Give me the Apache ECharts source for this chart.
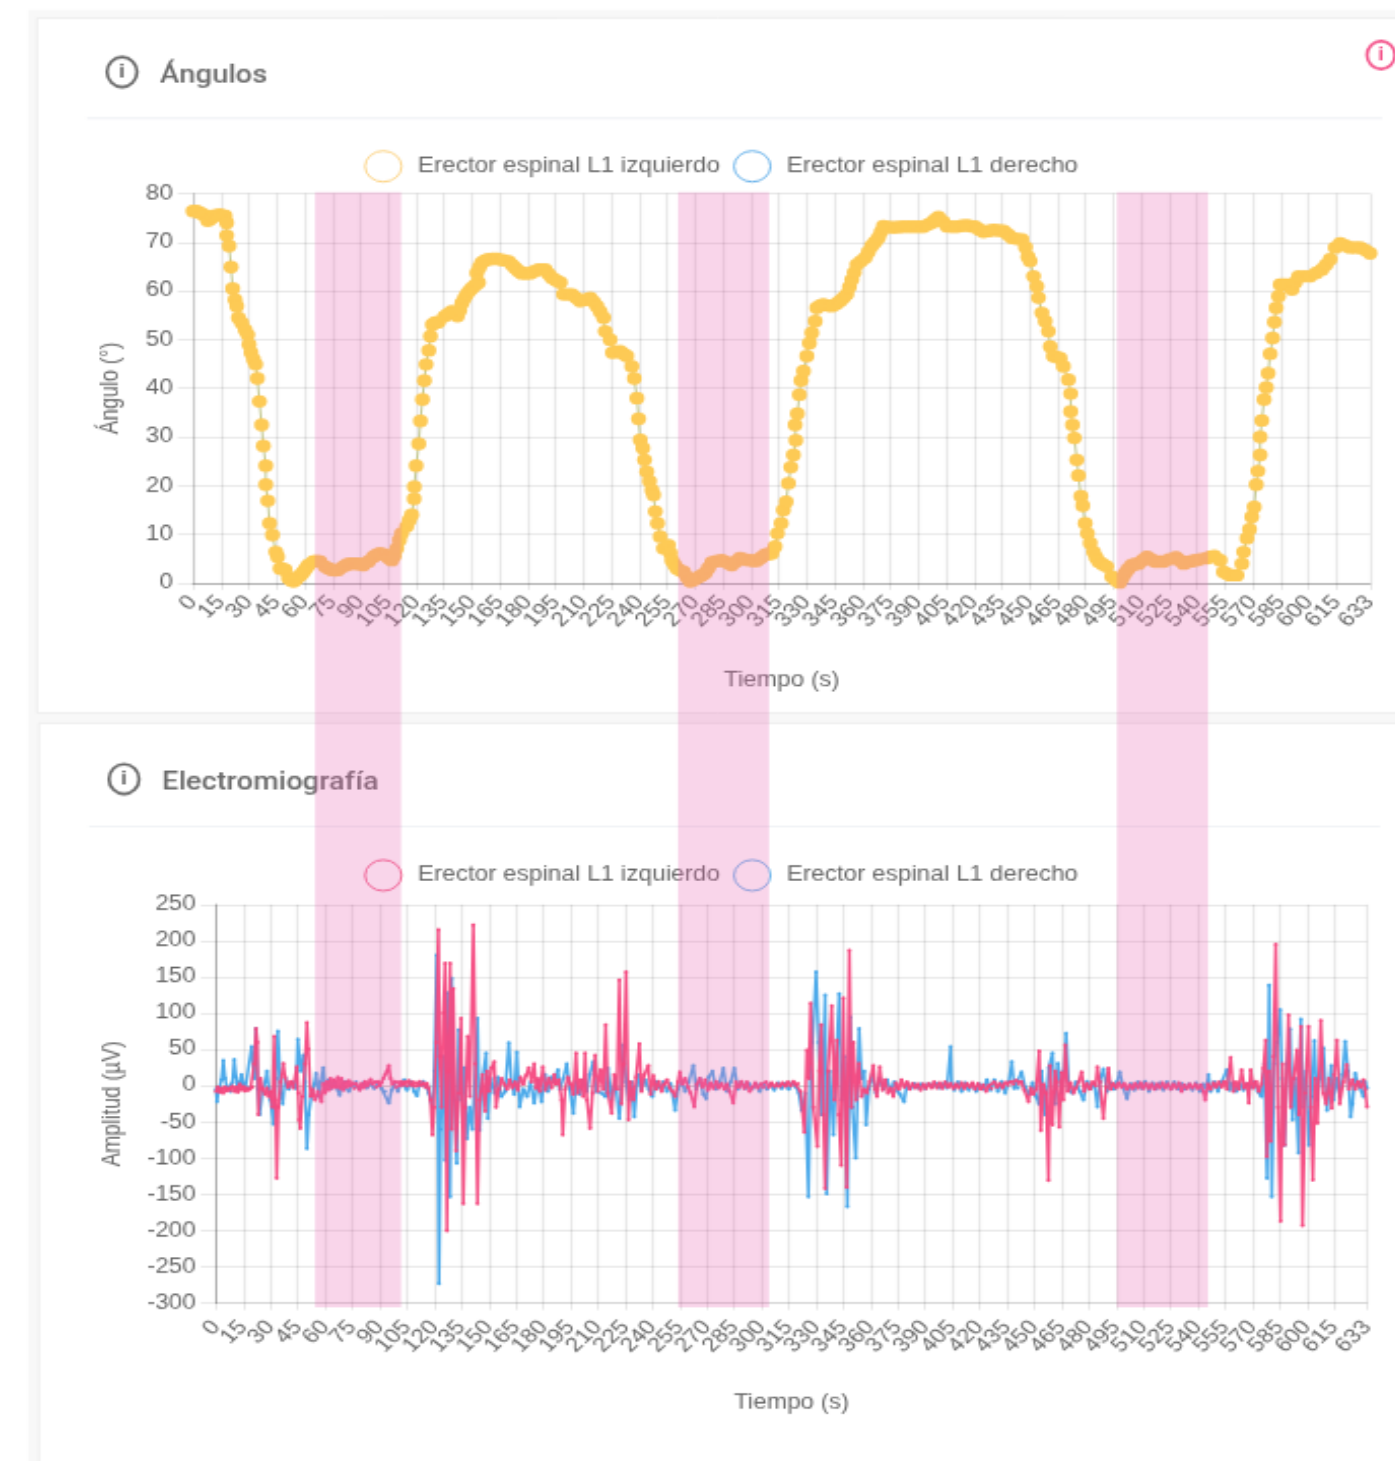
<!DOCTYPE html>
<html><head><meta charset="utf-8">
<style>html,body{margin:0;padding:0;background:#fff;overflow:hidden;width:1395px;height:1461px}
#c{position:absolute;left:0;top:0;transform-origin:0 0}</style>
<script src="https://cdn.jsdelivr.net/npm/echarts@6/dist/echarts.min.js"></script>
</head><body><div id="c"></div>
<script>
const tickSeconds=[0,15,30,45,60,75,90,105,120,135,150,165,180,195,210,225,240,255,270,285,300,315,330,345,360,375,390,405,420,435,450,465,480,495,510,525,540,555,570,585,600,615,633];
const nameLeft='Erector espinal L1 izquierdo';
const nameRight='Erector espinal L1 derecho';
const bandRanges=[[65.6,111.9],[260.8,309.8],[496.9,545.9]];
const angleLeft=[[0,76.4],[2,76.4],[3.8,76],[5.6,75.7],[7.9,74.4],[9.5,74.8],[10.9,75.4],[12.7,75.5],[14.5,75.7],[17.2,75.4],[18.1,74],[18.1,71.4],[19.4,69.2],[20.4,64.9],[21.3,60.5],[22.6,58.2],[23.5,56.9],[24.4,54.5],[26.2,53.4],[28,52],[29.4,51],[30.1,49],[31.2,47.3],[32.5,45.9],[33.7,44.9],[34.6,42],[35.7,37.3],[36.9,32.5],[37.8,28.2],[39.1,24.1],[39.1,20.2],[40.2,16.9],[41.2,12.3],[42.7,9.9],[44.5,6.4],[45.5,5.4],[46.8,3],[48.2,2.9],[49.5,2.7],[51.3,1],[52.6,0.6],[54,0.3],[55.3,0.7],[56.7,1.3],[58,1.7],[59.4,2.3],[60.7,3],[62,3.7],[64.7,4.4],[66.5,4.5],[68.3,4.4],[71,3.4],[72.8,3],[74.6,2.7],[76.4,2.6],[78.2,2.7],[80.9,3.4],[82.7,3.8],[84.5,4],[86.2,4],[88,4],[89.8,3.9],[91.6,3.7],[94.3,4.4],[97,5.4],[98.8,5.8],[100.6,6.1],[103.3,5.8],[105,5.2],[106.9,4.7],[108.3,5.6],[109.6,7.1],[111,8.8],[112.2,10.2],[114.9,11.6],[116.3,12.9],[117.6,14],[118.9,17.3],[119,19.8],[120,24.1],[121.4,28.6],[122.3,33.3],[123.4,37.7],[124.4,41.6],[125.3,44.9],[126.8,47.8],[127.7,50.7],[128.7,53.1],[130.3,53.5],[132,53.6],[135.4,54.8],[137.3,55.3],[139.2,55.8],[140.7,55.3],[142.2,54.8],[143.4,56],[144.6,57.5],[146,58.5],[147.2,59.3],[148.6,60],[150,60.6],[151.8,61.2],[153.5,61.7],[152.6,63.7],[154,64.8],[155.3,65.8],[157,66.2],[158.9,66.5],[161.2,66.6],[163.4,66.6],[166.5,66.3],[169.7,66.1],[171.5,65.4],[173.2,64.7],[175,64.1],[176.8,63.6],[179,63.6],[181.3,63.6],[183.5,64],[185.8,64.4],[187.6,64.4],[189.4,64.4],[191.2,63.5],[193,62.7],[195.2,62.2],[197.5,61.7],[199.2,59.3],[201.5,59.3],[203.7,59.3],[206,58.6],[208.2,57.9],[211,58.2],[213.6,58.6],[215.4,57.8],[217.2,56.9],[219,55.7],[220.8,54.5],[221.7,51.7],[224.3,50],[225.6,47.3],[227.6,47.5],[229.7,47.6],[231.5,47.1],[233.3,46.6],[236,44.5],[237.3,42],[238.7,38],[239.6,33.7],[240.5,29.4],[241.9,27.7],[242.8,25.3],[244,22.9],[245.5,20.9],[246.8,19.1],[247.7,18.1],[248.6,14.7],[249.8,12.3],[251.2,9.5],[253,7.1],[255.7,7.8],[256.7,6.2],[257.5,4.7],[258.9,3.8],[260.2,3],[262,2.6],[263.8,2.3],[265.6,1.2],[267.4,0.3],[269.6,0.7],[271.9,1.2],[273.6,1.6],[275.4,2],[277.2,3.1],[279,4.2],[281.7,4.5],[284.4,4.7],[287,4.2],[289.7,3.7],[292,4.4],[294.2,5.1],[296.5,4.9],[298.7,4.7],[301,4.6],[303.2,4.6],[305.5,5.2],[307.7,5.8],[309.5,6],[311.3,6.1],[313,7.5],[314.3,10.2],[316.3,12.3],[317.5,15],[319,16.7],[320.2,20.5],[321.5,23.8],[322.9,26.3],[324.2,29.3],[323.8,32.5],[325,34.8],[326.1,38.7],[327,41.6],[328.3,43.5],[330.1,46.6],[331.5,49.3],[332.8,51.4],[334.6,53.8],[335.5,56.5],[337.2,57],[339,57.2],[341.2,57],[343.5,56.9],[345.8,57.3],[348,57.9],[349.8,58.6],[351.6,59.3],[353,60.8],[354.3,62.3],[355.6,63.8],[357,65.4],[359.2,66.1],[361.5,66.8],[363.2,68],[365,69.2],[366.8,70],[368.6,70.9],[370,72.1],[371.3,73.3],[374,73.1],[376.7,73],[379.4,73.1],[382,73.2],[384.8,73.2],[387.5,73.2],[390.2,73.2],[392.8,73.2],[395,73.6],[397.3,74],[399.1,74.6],[400.9,75.2],[403.2,74.3],[405.4,73.3],[408,73.2],[410.8,73.2],[413.5,73.4],[416.1,73.5],[418.4,73.3],[420.6,73.2],[422.9,72.6],[425.1,72.1],[427.8,72.3],[430.5,72.5],[433.2,72.4],[435.9,72.3],[438.2,71.6],[440.4,70.9],[443,70.7],[445.7,70.6],[447.7,69],[449,67],[450.2,66.1],[452,63],[453.8,60.9],[454.7,58.6],[456.5,55.5],[458.3,53.8],[460,51.7],[461,48.6],[462.7,46.6],[464.5,46.4],[466.3,46.2],[468.1,44.5],[470.8,41.8],[472,38.9],[472,35.2],[473,32.5],[474,29.8],[475.3,25.3],[476.2,22.1],[477.5,17.8],[478.5,15.9],[479.8,12.3],[481,10.2],[482.5,8.2],[484.3,6.4],[485.6,5.3],[487,4.4],[489.2,3.9],[491.4,3.4],[494.1,1.3],[496.2,0.6],[498.3,0.1],[499.8,1],[501.3,2],[503,2.9],[504.9,3.7],[506.7,3.9],[508.5,4],[510.7,4.7],[513,5.4],[515.2,4.9],[517.4,4.4],[519.6,4.4],[521.9,4.4],[525.2,4.9],[528.6,5.3],[530.6,4.7],[532.7,4],[535,4.3],[537.2,4.5],[539.4,4.7],[541.6,4.9],[545.2,5.1],[547.2,5.4],[549.2,5.6],[552.4,4.7],[554.2,2.3],[556,1.9],[557.8,1.6],[559.6,1.6],[561.4,1.6],[564.1,4],[565,6.4],[566.8,9.2],[568.2,11],[569.4,13.6],[570.7,15.6],[571.8,20.2],[572.7,23],[573.9,26.3],[573.9,30],[574.8,33.4],[576,37.7],[577.2,40.2],[578.2,43.1],[579.3,47.1],[580.6,50.3],[581.6,53.6],[582.5,56.5],[583.8,58.9],[584.7,61.3],[586.5,61.3],[588.3,61.3],[591,60.3],[592.8,61.7],[594.6,63],[597.7,63],[600.8,63],[604,63.7],[607.1,64.4],[609.4,65.4],[611.6,66.5],[614.3,68.9],[617,69.8],[619.6,69.3],[622.3,68.9],[625,68.9],[627.7,68.9],[630.4,68.4],[633,67.7]];
const emgLeft=[[0,-8],[1,-2],[2,-9],[3,-3],[4,-10],[5,-2],[6,-7],[7,-3],[8,-6],[9,-1],[10,-8],[11,-2],[12,-9],[13,2],[14,-6],[15,-1],[16,-7],[17,-3],[18,-6],[19,-4],[20,-2],[21,30],[22,79],[22.7,60],[23.3,-40],[24.5,10],[25.5,-4],[27,-12],[28,-3],[29,-15],[30,-8],[31,-30],[32,68],[32.7,-20],[33.4,-128],[34.3,-30],[35.5,5],[37,31],[38,12],[39.5,-2],[41,6],[42.5,-3],[44.4,26],[45.2,-10],[45.7,-47],[46.3,-59],[47.5,-15],[49,30],[50,87],[50.8,50],[52,-15],[53,-5],[54.5,-20],[56,-8],[58,-22],[59,3],[60,-10],[61,6],[62,-6],[63,10],[64,-3],[65,8],[66,-2],[67,12],[68,-4],[69,10],[70,-6],[71,5],[72,-2],[73,7],[74,0],[75,4],[76,-4],[77,3],[78,-1],[79,-6],[80,3],[81,-3],[82,6],[83,-1],[84,4],[85,9],[86,2],[87,5],[88,-2],[89,6],[90,0],[91,4],[92,10],[93,15],[94,20],[95,28],[96,10],[97,2],[98,6],[99,-2],[100,5],[101,0],[102,6],[103,1],[104,5],[105,0],[106,7],[107,1],[108,5],[109,-1],[110,4],[111,0],[112,6],[113,1],[114,4],[115,-2],[116,3],[117,-4],[118,-20],[119,-68],[120,-30],[121,60],[122.3,215],[123,40],[124,-30],[125,100],[126,169],[127,-200],[127.6,20],[128.7,169],[129.6,-60],[130.5,134],[132,-90],[133.5,-10],[134.8,93],[136,-163],[137,-30],[138.4,68],[139.6,-15],[141.5,222],[142.6,30],[143.8,-163],[145,-20],[146.5,15],[148,-35],[149,20],[150,-8],[151.5,25],[153,33],[154,-30],[155.5,-5],[157,10],[158.5,2],[160,-5],[161.5,8],[163,-3],[164.5,5],[166,-6],[167.5,12],[169,2],[170.5,14],[172,25],[173.5,5],[175,30],[176,-4],[177,10],[178,-8],[179.7,26],[181,-6],[183,10],[184.5,-3],[186,15],[187,2],[188.5,8],[190,-20],[190.7,-68],[192,-5],[193.5,12],[195,2],[196.5,-12],[198,45],[199,-10],[200.5,8],[202,-15],[203,45],[204,-20],[205.7,-59],[207,-10],[208.5,42],[210,-8],[211.5,22],[213,-5],[214.3,84],[215.5,-10],[217.6,-38],[219,15],[220.5,-5],[221.8,146],[223,-25],[224.3,30],[225.5,157],[226.8,-47],[228,5],[229.5,-20],[231,12],[232.8,58],[234,-8],[235.5,15],[237.8,28],[239,-12],[240.5,14],[242,-5],[243.5,6],[245,-8],[246.5,2],[248,8],[249.5,-3],[251,-8],[252.5,-15],[254,5],[255,19],[256.5,2],[258,10],[259.5,-2],[261,-10],[263,-29],[264.5,2],[266,10],[267.5,-2],[269,8],[270.5,-6],[272,4],[273.5,-4],[275,6],[276.5,-3],[278,3],[279.5,-5],[281,2],[282.5,-8],[284.5,-24],[286,5],[287.5,-2],[289,6],[290.5,-4],[292,5],[293.5,-8],[295,-2],[296.5,4],[298,-3],[299.5,2],[301,-2],[302.5,5],[304,-2],[305.5,4],[307,-1],[308.5,3],[310,-1],[311.5,4],[313,-1],[314.5,5],[316,0],[317.5,6],[319,1],[320,3],[321.5,-8],[323.6,-64],[324.9,49],[326,10],[327,114],[328.5,-30],[330.7,-84],[331.8,20],[332.8,84],[334,-40],[335,-142],[336.5,20],[338.6,110],[340,-20],[341.5,63],[342.5,-40],[343.8,-110],[345,121],[346.9,-140],[348.3,187],[349.5,-30],[350.5,60],[352,-20],[353.5,31],[355,-15],[356.5,-5],[358,-10],[359.5,6],[361.5,28],[362.5,-5],[363.5,-15],[365,26],[366.5,-6],[368,8],[369.5,-10],[371,-3],[372.5,-15],[374,4],[375.5,-5],[377,8],[378.5,-2],[380,5],[381.5,-5],[383,3],[384.5,-3],[386,2],[387.5,-6],[389,2],[390.5,-4],[392,3],[393.5,-3],[395,5],[396.5,-3],[398,4],[399.5,-4],[401,5],[402.5,-2],[404,3],[405.5,-4],[407,2],[408.5,-3],[410,4],[411.5,-4],[413,3],[414.5,-2],[416,4],[417.5,-5],[419,3],[420.5,-5],[422,1],[423.5,-8],[425,0],[426.5,-4],[428,5],[429.5,-2],[431,3],[432.5,-3],[434,4],[435.5,1],[437,5],[438.5,2],[440,7],[441.5,3],[443,5],[444.5,-6],[446.8,-22],[448,-3],[449.5,-12],[451,-5],[452.7,48],[453.6,-62],[455,2],[456.5,-10],[457.8,-131],[458.7,28],[460,-54],[461.5,20],[462.5,5],[463.7,-57],[465,18],[466,-20],[467,56],[468.5,-8],[470,4],[471.5,-10],[473,-3],[474.5,6],[476,19],[477.5,-8],[479,3],[480.5,-5],[482,5],[483.7,0],[484.7,26],[486,5],[488,-45],[489.5,-2],[490.8,24],[492,-5],[493.5,3],[495,-3],[496.5,4],[498,-2],[499.5,3],[501,-5],[502.5,1],[504,-4],[505.5,3],[507,-3],[508.5,4],[510,-4],[511.5,3],[513,-4],[514.5,2],[516,-5],[517.5,2],[519,-3],[520.5,4],[522,-3],[523.5,2],[525,-5],[526.5,2],[528,-3],[529.5,4],[531,-8],[532.5,1],[534,-4],[535.5,2],[537,-3],[538.5,2],[540,-4],[541.5,1],[543,-8],[544,-20],[545.5,2],[547,-5],[548.5,4],[550,-2],[551.5,5],[553,-2],[554.5,6],[556,-5],[558,39],[559.5,-8],[561,5],[562.5,-5],[564,22],[565.5,-3],[567,3],[568,-24],[569,22],[570.5,-3],[572,6],[573.5,-8],[575,3],[576,24],[577.3,63],[577.9,-98],[579,20],[580,-77],[581.5,40],[582.8,195],[584,-30],[585.4,-187],[586.5,30],[587.6,-82],[589.8,98],[591,-30],[592.5,10],[594.4,49],[595.5,-40],[596.6,82],[597.5,-193],[599,-10],[600.8,82],[602,-30],[603.2,-130],[604.5,10],[605.7,-52],[607.6,90],[609,-10],[610.5,-25],[612,10],[613.6,-31],[615,15],[616.4,63],[618,-25],[620,5],[621.9,29],[623,-5],[625,8],[626.5,-5],[628,6],[629.5,-2],[631,8],[632,-5],[633,-29]];
const emgRight=[[0,-5],[0.5,-22],[1.5,-6],[3,8],[4,35],[5,10],[6,-4],[8,-8],[9,4],[10,36],[11,12],[12,-6],[13,5],[14,15],[15,3],[16,-5],[18,-3],[19.6,54],[21,10],[22,79],[23,-5],[24,-40],[25.5,-8],[27,5],[28,20],[29,-3],[30,-20],[31.5,-53],[33,10],[34,75],[35.5,-10],[36.7,-25],[38,10],[40,-5],[42,5],[44,-4],[45,64],[46.5,20],[48,42],[49,5],[50,-87],[51,-40],[52.5,-12],[54,2],[55,17],[56.5,-15],[57.5,5],[59,25],[60,-5],[62,8],[63.5,-4],[65,5],[67,-6],[68,-13],[69.5,2],[71,6],[73,-8],[75,2],[77,5],[79,-5],[81,4],[83,-3],[85,3],[87,-4],[89,2],[91,-4],[93,-8],[95,-24],[96.5,-6],[98,2],[100,-8],[102,5],[103.5,8],[105,-6],[107,6],[109,-8],[110.5,-14],[112,4],[114,6],[116,-3],[117,-10],[119,-30],[120,20],[121.4,180],[122,50],[122.6,-273],[123.5,-60],[125,40],[126,-103],[127,128],[128,30],[128.7,-153],[129.6,148],[131,-20],[132.4,-107],[133.5,77],[135,-20],[136.5,25],[138,-73],[139.5,-30],[141,-60],[143.8,93],[145,-61],[146.5,10],[148.5,45],[149.5,-45],[151,10],[153,-10],[155,12],[157,-15],[159,-8],[161,59],[162.5,5],[164,-12],[165.4,46],[167,-29],[169,-5],[171,-15],[173,5],[175,-24],[177,8],[179,-22],[181,15],[182.5,-8],[184,12],[186,5],[188,22],[189,-5],[191,10],[192.9,30],[194.5,-4],[196.5,-38],[198,5],[200,-12],[202,8],[204,-8],[205.5,15],[207.5,33],[209,-8],[212,-10],[214,-15],[215.5,24],[217.5,-20],[219.5,10],[221.8,-45],[223,-5],[224,56],[225.5,5],[227,-20],[228.5,5],[230,-43],[232,15],[234,-5],[236,8],[238,-5],[240,-15],[242,6],[244,-3],[246,5],[248,-8],[250,3],[252.5,-34],[254,-5],[256,6],[258,-8],[260,5],[262.5,28],[264,-5],[266,10],[268,-12],[269.5,-18],[271,12],[273,20],[275,-5],[277,5],[279,24],[281,-8],[283,5],[285,24],[287,-5],[289,5],[291,-4],[293,3],[295,-4],[297,3],[299,-8],[301,2],[303,-5],[305,3],[307,-6],[309,4],[311,-4],[313,3],[315,-5],[317,4],[319,-2],[320.5,-10],[322,-34],[324,-10],[325.8,-153],[327,20],[328,60],[330,157],[331.5,60],[333,-40],[335,125],[335.9,-149],[337.5,20],[339.5,-68],[341,20],[342.7,127],[344,-20],[345.5,40],[347.2,-167],[348.7,95],[350,-30],[351.8,-100],[353.7,79],[355,10],[356.5,20],[357.5,-54],[359,-5],[361,15],[363,-10],[365,10],[367,-5],[369,8],[371,-6],[373,5],[375,-8],[376.5,-12],[378.4,-22],[380,3],[382,-4],[384,3],[386,-3],[388,2],[390,-4],[392,3],[394,-2],[396,3],[398,-3],[400,2],[402,-3],[404,54],[404.6,2],[406,-6],[408,5],[410,-8],[412,4],[414,-6],[416,3],[418,-8],[420,2],[422,-5],[424,8],[426,-6],[428,8],[430,-8],[432,6],[434,-10],[436,5],[437.6,33],[439,-4],[441,-3],[443,19],[445,-2],[447,-12],[449,4],[451,-15],[452.5,-25],[454,20],[456,-40],[458,25],[460,45],[461.5,-25],[463,31],[465,-10],[466.5,20],[467.5,72],[469,-5],[471,-10],[473,5],[475,-8],[477,-20],[479,6],[481,-4],[483,3],[484.7,-29],[486,6],[488,23],[490,-8],[492,4],[494,-5],[495.5,5],[497,19],[499,-3],[501,-18],[503,3],[505,-6],[507,5],[509,-4],[511,6],[513,-8],[515,4],[517,-5],[519,4],[521,-6],[523,5],[525,-5],[527,5],[529,-5],[531,3],[533,-5],[535,2],[537,-6],[539,4],[541,-8],[543,2],[544.5,-4],[545.8,15],[547,-8],[549,5],[551,-8],[553,5],[555.9,22],[557.5,-6],[559,4],[561,-8],[563,3],[565,-6],[567,3],[569,-3],[571,5],[573,-8],[575,-15],[576.5,30],[578,-128],[579.2,139],[580.6,-153],[582,30],[583.5,60],[585.2,105],[586.2,10],[587.6,-82],[589,30],[590.7,78],[592,-47],[593.5,10],[595.3,-93],[596.6,92],[598,-30],[599.5,20],[601,-82],[602.5,-15],[604,62],[605.5,-20],[607,10],[609,52],[611,-34],[613.3,28],[614.5,-20],[616,10],[618,-15],[619.5,15],[621,61],[622.5,20],[624,-43],[625,-25],[626.5,17],[628,2],[630,5],[631,-15],[632,5],[633,-3]];

const SX=2.03, SY=1.72;
const W=Math.ceil(1395/SX), H=Math.ceil(1461/SY);
const el=document.getElementById('c');
el.style.width=W+'px'; el.style.height=H+'px';
el.style.transform='scale('+SX+','+SY+')';
const chart=echarts.init(el,null,{renderer:'canvas',devicePixelRatio:1});
const X=v=>v/SX, Y=v=>v/SY;
const FONT='"Liberation Sans"';
const GREY='#666';
const GRID='rgba(0,0,0,0.085)';
const ZERO='rgba(0,0,0,0.28)';
const labelsEven=tickSeconds.filter((t,i)=>i%2===0);
const labelsOdd=tickSeconds.filter((t,i)=>i%2===1);

function rect(x0,y0,x1,y1,fill,stroke,z){return {type:'rect',z:z,silent:true,shape:{x:X(x0),y:Y(y0),width:X(x1-x0),height:Y(y1-y0)},style:{fill:fill,stroke:stroke||null,lineWidth:1}};}
function icon(cx,cy,r,col,z){return [
 {type:'ellipse',z:z,silent:true,shape:{cx:X(cx),cy:Y(cy),rx:X(r),ry:Y(r)},style:{fill:'transparent',stroke:col,lineWidth:1.6}},
 {type:'text',z:z,silent:true,x:X(cx),y:Y(cy),style:{text:'i',fill:col,font:'bold 11px "Liberation Sans"',align:'center',verticalAlign:'middle'}}];}
function title(x,y,t){return {type:'text',z:-5,silent:true,x:X(x),y:Y(y),style:{text:t,fill:'#6a6a6a',font:'500 14.4px Roboto',align:'left',verticalAlign:'middle'}};}

const graphics=[
 rect(28,10,1400,1470,'#f8f8f8',null,-10),
 rect(37,18,1400,713,'#fff','#eeeeee',-9),
 rect(39,723,1400,1470,'#fff','#eeeeee',-9),
 rect(87,117.5,1382,119,'#eef0f5',null,-8),
 rect(89,825.5,1380,827,'#eef0f5',null,-8),
 title(160,76,'Ángulos'),
 title(162,783,'Electromiografía'),
 ...icon(122,72,15,'#666',-5),
 ...icon(124,779,15,'#666',-5),
 ...icon(1381,55,14,'#f4558c',-5)
];

function legend(left,top,c1,c2){return {left:X(left),top:Y(top)-9,orient:'horizontal',padding:0,itemWidth:18,itemHeight:18,itemGap:6.5,icon:'circle',
 textStyle:{fontFamily:FONT,fontSize:12,color:GREY,padding:[0,0,0,3]},selectedMode:false,
 data:[{name:nameLeft,itemStyle:{color:'#fff',borderColor:c1,borderWidth:1,opacity:1}},{name:nameRight,itemStyle:{color:'#fff',borderColor:c2,borderWidth:1,opacity:1}}]};}
function xLabels(values,margin){return {customValues:values,rotate:48,margin:margin,fontFamily:FONT,fontSize:12,color:GREY,hideOverlap:false,showMinLabel:true,showMaxLabel:true};}
function xAxis(i,gap,lineColor,margin){return {gridIndex:i,type:'value',min:0,max:633,name:'Tiempo (s)',nameLocation:'middle',nameGap:gap,
 nameTextStyle:{fontFamily:FONT,fontSize:12,color:GREY},
 axisLine:{onZero:false,lineStyle:{color:lineColor,width:1}},
 axisTick:{customValues:tickSeconds,length:4,lineStyle:{color:GRID}},
 axisLabel:xLabels(labelsEven,margin),
 splitLine:{show:true,lineStyle:{color:GRID,width:1.2}}};}
function xAxisOdd(i,margin){return {gridIndex:i,type:'value',min:0,max:633,position:'bottom',
 axisLine:{show:false,onZero:false},axisTick:{show:false},splitLine:{show:false},axisLabel:xLabels(labelsOdd,margin)};}
function yAxis(i,name,gap,min,max,interval,colors){return {gridIndex:i,type:'value',min:min,max:max,interval:interval,name:name,nameLocation:'middle',nameGap:gap,
 nameTextStyle:{fontFamily:FONT,fontSize:12,color:GREY},
 axisLine:{show:true,lineStyle:{color:i==1?'rgba(0,0,0,0.25)':'rgba(0,0,0,0.13)'}},
 axisTick:{show:true,length:7.5,inside:false,lineStyle:{color:GRID}},
 axisLabel:{margin:10,fontFamily:FONT,fontSize:12,color:GREY},
 splitLine:{show:true,lineStyle:{color:colors,width:1.2}}};}

const option={
 animation:false,
 backgroundColor:'#fff',
 graphic:{elements:graphics},
 legend:[legend(364,165.5,'#fdd68a','#6fb6ec'),legend(364,874.5,'#f4688f','#6fb6ec')],
 grid:[
  {left:X(193),top:Y(193.5),width:X(1177),height:Y(389.5)},
  {left:X(216),top:Y(904.5),width:X(1151),height:Y(398.5)},
  {left:X(193),top:Y(192),width:X(1177),height:Y(1115)}
 ],
 xAxis:[xAxis(0,51,ZERO,9),xAxis(1,52,GRID,12),{gridIndex:2,type:'value',min:0,max:633,show:false},xAxisOdd(0,9),xAxisOdd(1,12)],
 yAxis:[
  yAxis(0,'Ángulo (°)',34,0,80,10,[GRID]),
  yAxis(1,'Amplitud (µV)',45,-300,250,50,[GRID,GRID,GRID,GRID,GRID,GRID,'rgba(0,0,0,0.2)',GRID,GRID,GRID,GRID,GRID]),
  {gridIndex:2,type:'value',min:0,max:1,show:false}
 ],
 series:[
  {name:nameLeft,type:'line',xAxisIndex:0,yAxisIndex:0,data:angleLeft,symbol:'circle',symbolSize:7.4,showAllSymbol:true,clip:false,
   itemStyle:{color:'#fdca55',borderWidth:0},lineStyle:{color:'#c3c88f',width:1},z:3},
  {name:nameRight,type:'line',xAxisIndex:0,yAxisIndex:0,data:[],itemStyle:{color:'#6fb6ec'},z:2},
  {name:nameRight,type:'line',xAxisIndex:1,yAxisIndex:1,data:emgRight,symbol:'circle',symbolSize:2,showAllSymbol:true,
   itemStyle:{color:'#44a6ea'},lineStyle:{color:'rgba(68,166,234,0.95)',width:1.5},z:2},
  {name:nameLeft,type:'line',xAxisIndex:1,yAxisIndex:1,data:emgLeft,symbol:'circle',symbolSize:2,showAllSymbol:true,
   itemStyle:{color:'#f5487f'},lineStyle:{color:'rgba(245,72,127,0.95)',width:1.5},z:3},
  {type:'line',xAxisIndex:2,yAxisIndex:2,data:[],silent:true,z:20,
   markArea:{silent:true,z:20,itemStyle:{color:'rgba(232,100,178,0.27)',borderWidth:0},
    data:bandRanges.map(r=>[{xAxis:r[0]},{xAxis:r[1]}])}}
 ]
};
chart.setOption(option);
</script></body></html>
